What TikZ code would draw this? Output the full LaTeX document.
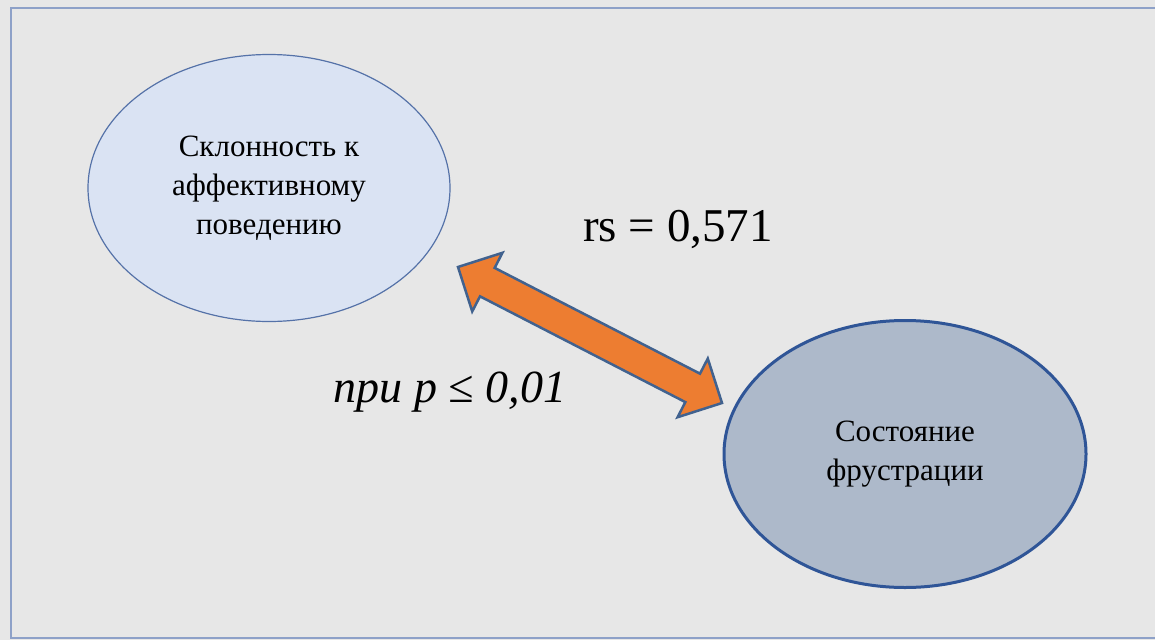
\documentclass[tikz,border=0pt]{standalone}
\usepackage{fontspec}
\setmainfont{Liberation Serif}
\usetikzlibrary{shapes.geometric, calc}

\definecolor{bggray}{HTML}{E7E7E7}
\definecolor{frameblue}{HTML}{8EA1C8}
\definecolor{lightfill}{HTML}{DAE3F3}
\definecolor{lightline}{HTML}{5572A8}
\definecolor{darkfill}{HTML}{ADB9CA}
\definecolor{darkline}{HTML}{2F5597}
\definecolor{arroworange}{HTML}{ED7D31}
\definecolor{arrowline}{HTML}{41628F}

\begin{document}
\begin{tikzpicture}[x=1pt, y=-1pt,
    state/.style={ellipse, minimum width=362pt, minimum height=267pt, inner sep=0pt,
        align=center, font=\fontsize{31}{39}\selectfont}]
    \useasboundingbox (0,0) rectangle (1155,640);
    \fill[bggray] (0,0) rectangle (1155,640);
    \draw[frameblue, line width=2pt] (11,8) rectangle (1170,638);

    \node[state, draw=lightline, fill=lightfill, line width=1.2pt] (affect) at (269,188) {
        Склонность к\\
        аффективному\\
        поведению
    };

    \node[state, draw=darkline, fill=darkfill, line width=3pt] (frust) at (905,454) {
        Состояние\\
        фрустрации
    };

    % double block arrow between the two states
    \coordinate (tl) at (458,267);
    \coordinate (tr) at (722,403);
    \filldraw[fill=arroworange, draw=arrowline, line width=2.5pt, line join=miter]
        (tl)
        -- ($(tl)!33pt!(tr)!33pt!90:(tr)$)
        -- ($(tl)!33pt!(tr)!16pt!90:(tr)$)
        -- ($(tr)!33pt!(tl)!16pt!-90:(tl)$)
        -- ($(tr)!33pt!(tl)!33pt!-90:(tl)$)
        -- (tr)
        -- ($(tr)!33pt!(tl)!33pt!90:(tl)$)
        -- ($(tr)!33pt!(tl)!16pt!90:(tl)$)
        -- ($(tl)!33pt!(tr)!16pt!-90:(tr)$)
        -- ($(tl)!33pt!(tr)!33pt!-90:(tr)$)
        -- cycle;

    \node[font=\fontsize{47}{54}\selectfont] (rs) at (678,229) {rs = 0,571};
    \node[font=\fontsize{46}{54}\selectfont\itshape] (pval) at (450,392) {при p ≤ 0,01};
\end{tikzpicture}
\end{document}
